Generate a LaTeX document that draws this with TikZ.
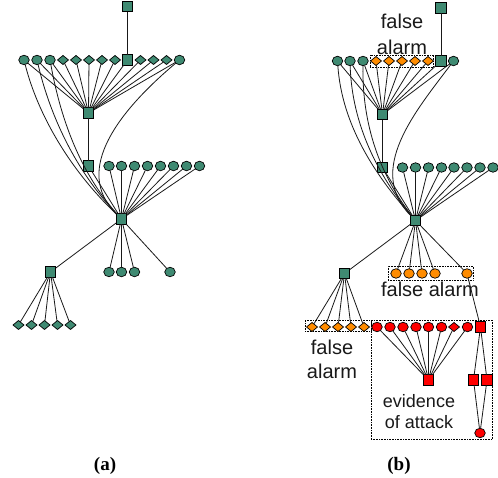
\documentclass[tikz,border=0pt]{standalone}
\usepackage{fontspec}
\setmainfont{Liberation Sans}
\newfontfamily\capfont{Liberation Serif}
\usetikzlibrary{shapes.geometric}
\definecolor{teal1}{HTML}{3F8A72}
\definecolor{org1}{HTML}{FF8C00}
\definecolor{red1}{HTML}{FF0000}
\tikzset{
 base/.style={draw=black,line width=0.7pt,inner sep=0pt,outer sep=0pt},
 sq/.style={base,rectangle,minimum width=10.5pt,minimum height=10.5pt},
 circ/.style={base,ellipse,minimum width=10.5pt,minimum height=9.5pt},
 dia/.style={base,diamond,minimum width=11pt,minimum height=9pt},
 conn/.style={line width=0.8pt,black!90},
 dbox/.style={draw=black,densely dotted,line width=0.6pt},
 lab/.style={font=\fontsize{20}{22}\selectfont,text=black!90,inner sep=0pt},
 lab2/.style={font=\fontsize{18}{20}\selectfont,text=black!90,inner sep=0pt},
 captext/.style={font=\capfont\bfseries\fontsize{19}{21}\selectfont,inner sep=0pt}
}
\begin{document}
\begin{tikzpicture}[x=1pt,y=-1pt]
\useasboundingbox (0,0) rectangle (498,478);
% ---------- (a)
\node[sq,fill=teal1] (at) at (127.5,6.5) {};
\foreach \n/\x in {1/24,2/37,3/50,13/179.5}
  \node[circ,fill=teal1] (ar\n) at (\x,60) {};
\foreach \n/\x in {4/63,5/76,6/89,7/102,8/115,10/140.5,11/153.5,12/166.5}
  \node[dia,fill=teal1] (ar\n) at (\x,60) {};
\node[sq,fill=teal1] (ar9) at (127.5,60) {};
\node[sq,fill=teal1] (ah) at (88.5,113) {};
\node[sq,fill=teal1] (as) at (88.5,166) {};
\foreach \n/\x in {1/109,2/121.5,3/134.5,4/147.5,5/160.5,6/173.5,7/186.5,8/199.5}
  \node[circ,fill=teal1] (am\n) at (\x,166) {};
\node[sq,fill=teal1] (ak) at (121.5,219) {};
\node[sq,fill=teal1] (al) at (50.5,272) {};
\foreach \n/\x in {1/109,2/121.5,3/134.5,4/170}
  \node[circ,fill=teal1] (ab\n) at (\x,272) {};
\foreach \n/\x in {1/18.5,2/31.5,3/44.5,4/57.5,5/70.5}
  \node[dia,fill=teal1] (ad\n) at (\x,325) {};
\draw[conn] (at) -- (ar9);
\foreach \n in {1,...,13} \draw[conn] (ar\n) -- (ah);
\draw[conn] (ah) -- (as);
\draw[conn] (as) -- (ak);
\foreach \n in {1,...,8} \draw[conn] (am\n) -- (ak);
\draw[conn] (ar1) .. controls (38,115) and (70,170) .. (ak);
\draw[conn] (ar2) .. controls (50,115) and (75,170) .. (ak);
\draw[conn] (ar3) .. controls (60,115) and (78,170) .. (ak);
\draw[conn] (ar13) .. controls (120,110) and (72,170) .. (ak);
\draw[conn] (ak) -- (al);
\foreach \n in {1,...,4} \draw[conn] (ak) -- (ab\n);
\foreach \n in {1,...,5} \draw[conn] (al) -- (ad\n);
\node[captext] (capa) at (105,466) {(a)};
% ---------- (b)
\node[dbox,minimum width=63.5pt,minimum height=12pt,inner sep=0pt] (box1) at (401.75,61) {};
\node[dbox,minimum width=85pt,minimum height=14pt,inner sep=0pt] (box2) at (430.5,273) {};
\node[dbox,minimum width=66pt,minimum height=11pt,inner sep=0pt] (box3) at (338,326) {};
\node[dbox,minimum width=121.5pt,minimum height=119pt,inner sep=0pt] (box4) at (431.75,379.5) {};
\node[sq,fill=teal1] (bt) at (441,8) {};
\foreach \n/\x in {1/337.5,2/350,3/363,10/453.5}
  \node[circ,fill=teal1] (br\n) at (\x,61) {};
\foreach \n/\x in {4/376,5/389,6/402,7/415,8/428}
  \node[dia,fill=org1] (br\n) at (\x,61) {};
\node[sq,fill=teal1] (br9) at (441,61) {};
\node[sq,fill=teal1] (bh) at (382.5,114.5) {};
\node[sq,fill=teal1] (bs) at (382.5,167.5) {};
\foreach \n/\x in {1/402.5,2/415.5,3/428.5,4/441.5,5/454,6/467,7/480,8/493}
  \node[circ,fill=teal1] (bm\n) at (\x,167.5) {};
\node[sq,fill=teal1] (bk) at (415.5,220.5) {};
\node[sq,fill=teal1] (bl) at (344.5,273.5) {};
\foreach \n/\x in {1/396,2/409,3/422,4/435,5/467}
  \node[circ,fill=org1] (bb\n) at (\x,273.5) {};
\foreach \n/\x in {1/312,2/325,3/338,4/351,5/364}
  \node[dia,fill=org1] (bd\n) at (\x,327) {};
\foreach \n/\x in {1/377,2/390,3/403,4/416,5/428.5,6/441.5,8/467.5}
  \node[circ,fill=red1] (be\n) at (\x,327) {};
\node[dia,fill=red1] (be7) at (454,327) {};
\node[sq,fill=red1] (be9) at (480.5,327) {};
\node[sq,fill=red1] (bx) at (428.5,380) {};
\node[sq,fill=red1] (by1) at (473.5,380) {};
\node[sq,fill=red1] (by2) at (487,380) {};
\node[circ,fill=red1] (bz) at (480,433) {};
\draw[conn] (bt) -- (br9);
\foreach \n in {1,...,10} \draw[conn] (br\n) -- (bh);
\draw[conn] (bh) -- (bs);
\draw[conn] (bs) -- (bk);
\foreach \n in {1,...,8} \draw[conn] (bm\n) -- (bk);
\draw[conn] (br1) .. controls (342,125) and (375,175) .. (bk);
\draw[conn] (br2) .. controls (352,125) and (378,175) .. (bk);
\draw[conn] (br3) .. controls (362,125) and (380,175) .. (bk);
\draw[conn] (br10) .. controls (415,112) and (366,170) .. (bk);
\draw[conn] (bk) -- (bl);
\foreach \n in {1,...,5} \draw[conn] (bk) -- (bb\n);
\foreach \n in {1,...,5} \draw[conn] (bl) -- (bd\n);
\draw[conn] (bb5) -- (be9);
\foreach \n in {1,...,8} \draw[conn] (be\n) -- (bx);
\draw[conn] (be9) -- (by1);
\draw[conn] (be9) -- (by2);
\draw[conn] (by1) -- (bz);
\draw[conn] (by2) -- (bz);
\node[lab] (t1) at (402,21) {false};
\node[lab] (t2) at (402,47) {alarm};
\node[lab] (t3) at (430,289) {false alarm};
\node[lab] (t4) at (332,347) {false};
\node[lab] (t5) at (332,371) {alarm};
\node[lab2] (t6) at (419,401) {evidence};
\node[lab2] (t7) at (419,422) {of attack};
\node[captext] (capb) at (399,466) {(b)};
\end{tikzpicture}
\end{document}
